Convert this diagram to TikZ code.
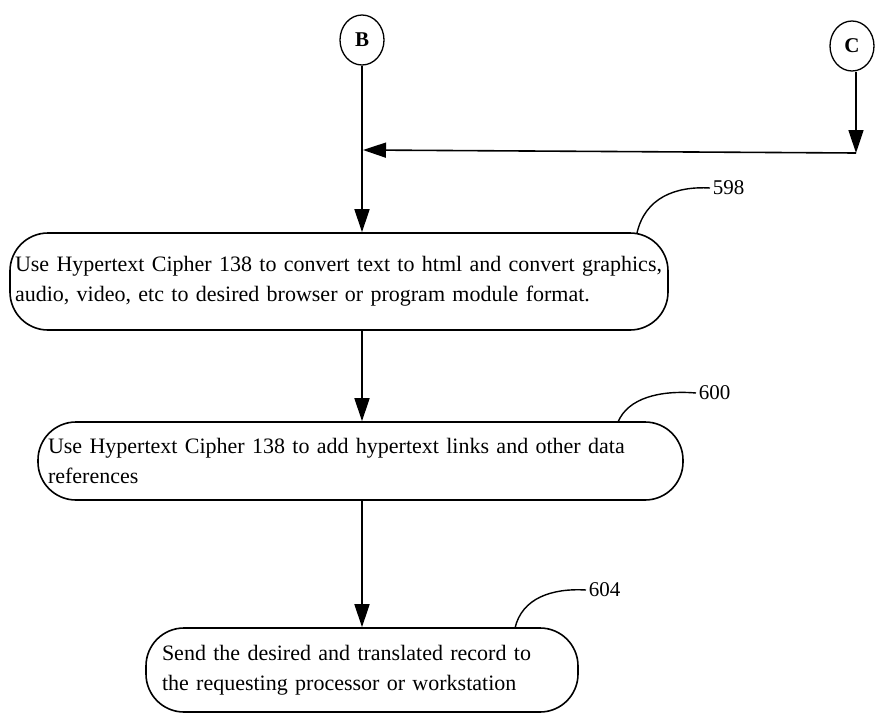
\documentclass[tikz,border=0pt]{standalone}
\usepackage{fontspec}
\setmainfont{Liberation Serif}
\usetikzlibrary{arrows.meta,shapes.geometric}
\begin{document}
\begin{tikzpicture}[x=1pt,y=-1pt,
  line width=1.6pt,
  arr/.style={-{Triangle[length=23pt,width=15pt]}},
  proc/.style={draw,rounded corners=38pt,align=left,inner xsep=5pt,inner ysep=0pt,
     font=\fontsize{22}{30}\selectfont},
  conn/.style={draw,ellipse,line width=1.3pt,minimum width=44pt,minimum height=50pt,inner sep=0pt,
     font=\fontsize{21}{24}\selectfont\bfseries},
  lbl/.style={font=\fontsize{21}{24}\selectfont,anchor=west,inner sep=2pt},
  lead/.style={line width=1.4pt}]
\useasboundingbox (0,0) rectangle (875,715);
\node[conn] (B) at (362,40) {B};
\node[conn] (C) at (852,46) {C};
\coordinate (cj) at (856,153);
\coordinate (bj) at (363,150);

\node[proc,text width=648pt,minimum height=97pt] (s1) at (339,281.5)
  {Use Hypertext Cipher 138 to convert text to html and convert graphics,\\
   audio, video, etc to desired browser or program module format.};
\node[proc,text width=625pt,minimum height=78pt,inner xsep=10pt] (s2) at (360.5,461)
  {Use Hypertext Cipher 138 to add hypertext links and other data\\
   references};
\node[proc,text width=400pt,minimum height=84pt,inner xsep=16pt] (s3) at (362,670)
  {Send the desired and translated record to\\
   the requesting processor or workstation};

\draw[arr] (C.south -| cj) -- (cj);
\draw[arr] (cj) -- (bj);
\draw[arr] (B) -- (s1.north -| B);
\draw[arr] (s1.south -| B) -- (s2.north -| B);
\draw[arr] (s2.south -| B) -- (s3.north -| B);

\node[lbl] (l598) at (710,188) {598};
\node[lbl] (l600) at (696,393) {600};
\node[lbl] (l604) at (586,590) {604};
\coordinate (a598) at (637,233);
\coordinate (a600) at (618,422);
\coordinate (a604) at (515,628);
\draw[lead] (a598) .. controls (645,198) and (675,186) .. (l598.west);
\draw[lead] (a600) .. controls (628,398) and (660,390) .. (l600.west);
\draw[lead] (a604) .. controls (522,598) and (552,588) .. (l604.west);
\end{tikzpicture}
\end{document}
